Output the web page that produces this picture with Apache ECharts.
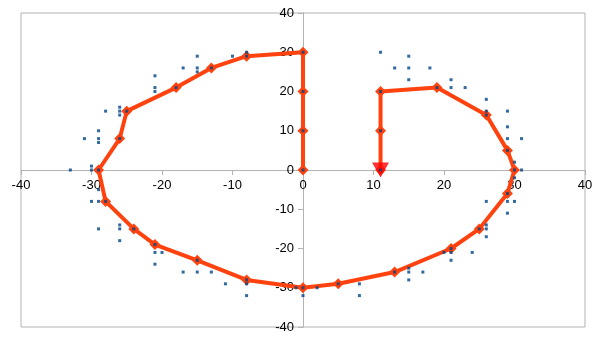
<!DOCTYPE html>
<html>
<head>
<meta charset="utf-8">
<script src="https://cdn.jsdelivr.net/npm/echarts@6/dist/echarts.min.js"></script>
<style>html,body{margin:0;padding:0;background:#fff}#c{width:605px;height:340px}</style>
</head>
<body>
<div id="c"></div>
<script>
// Path (orange line) points, in drawing order
const pathX = [0, 0, 0, 0, -8, -13, -18, -25, -26, -29, -28, -24, -21, -15, -8, 0, 5, 13, 21, 25, 29, 30, 29, 26, 19, 11, 11, 11];
const pathY = [0, 10, 20, 30, 29, 26, 21, 15, 8, 0, -8, -15, -19, -23, -28, -30, -29, -26, -20, -15, -6, 0, 5, 14, 21, 20, 10, 0];
// Scatter (blue squares)
const dotsX = [0, 0, 0, 0, -8, -8, -10, -13, -15, -15, -15, -17, -18, -21, -21, -21, -25, -26, -26, -26, -28, -26, -29, -29, -29, -31, -30, -30, -33, -29,
  -29, -30, -29, -28, -29, -26, -26, -26, -24, -21, -21, -20, -21, -17, -15, -13, -15, -11, -8, -8, -8, -1, 0, 0, 2,
  5, 8, 8, 13, 15, 15, 15, 17, 20, 21, 21, 21, 24, 25, 26, 26, 26, 26, 29, 29, 30, 29, 30, 31,
  11, 15, 13, 15, 18, 15, 21, 21, 23, 19, 26, 26, 26, 29, 29, 29, 31, 29, 30, 30, 11, 11, 11];
const dotsY = [0, 10, 20, 30, 30, 29, 29, 26, 29, 26, 25, 26, 21, 24, 21, 20, 15, 16, 15, 14, 15, 8, 10, 8, 7, 8, 1, 0, 0, 0,
  -5, -8, -8, -8, -15, -14, -15, -18, -15, -19, -21, -21, -24, -26, -26, -26, -23, -29, -28, -29, -32, -30, -30, -32, -30,
  -29, -29, -32, -26, -25, -26, -28, -26, -21, -20, -21, -23, -21, -15, -14, -15, -17, -8, -6, -8, -8, -11, -2, 0,
  30, 29, 26, 26, 26, 23, 23, 21, 21, 21, 18, 15, 14, 15, 11, 8, 8, 5, 2, 0, 20, 10, 0];
// Axis ticks
const axisMin = -40, axisMax = 40, axisStep = 10;

const pathData = pathX.map((x, i) => [x, pathY[i]]);
const dotsData = dotsX.map((x, i) => [x, dotsY[i]]);
const endPoint = [[pathX[pathX.length - 1], pathY[pathY.length - 1]]];

const W = 605, H = 340;
const G = {left: 21, right: 20, top: 13, bottom: 13};
const plotW = W - G.left - G.right, plotH = H - G.top - G.bottom;

const chart = echarts.init(document.getElementById('c'), null, {renderer: 'canvas'});
const labelStyle = {color: '#000', fontSize: 13, fontFamily: 'Liberation Sans, Arial, sans-serif'};
chart.setOption({
  animation: false,
  backgroundColor: '#fff',
  grid: Object.assign({show: true, borderColor: '#b3b3b3', borderWidth: 1,
         containLabel: false, outerBoundsMode: 'none'}, G),
  xAxis: {
    type: 'value', min: axisMin, max: axisMax, interval: axisStep,
    position: 'bottom', offset: -plotH / 2,
    axisLine: {onZero: false, lineStyle: {color: '#b3b3b3', width: 1}},
    axisTick: {show: true, inside: false, length: 5, lineStyle: {color: '#b3b3b3'}},
    axisLabel: Object.assign({margin: 9, showMinLabel: true, showMaxLabel: true}, labelStyle),
    splitLine: {show: false}
  },
  yAxis: {
    type: 'value', min: axisMin, max: axisMax, interval: axisStep,
    position: 'left', offset: -plotW / 2,
    axisLine: {onZero: false, lineStyle: {color: '#b3b3b3', width: 1}},
    axisTick: {show: true, inside: false, length: 5, lineStyle: {color: '#b3b3b3'}},
    axisLabel: Object.assign({margin: 9, showMinLabel: true, showMaxLabel: true}, labelStyle),
    splitLine: {show: false}
  },
  series: [
    {
      type: 'line', data: pathData, z: 2,
      lineStyle: {color: '#ff420e', width: 4},
      itemStyle: {color: '#ff420e'},
      symbol: 'diamond', symbolSize: 11, showSymbol: true
    },
    {
      type: 'scatter', data: endPoint, z: 3,
      symbol: 'triangle', symbolRotate: 180, symbolSize: [17, 15],
      itemStyle: {color: '#ff0000'}
    },
    {
      type: 'scatter', data: dotsData, z: 4,
      symbol: 'rect', symbolSize: 3,
      itemStyle: {color: '#004586'}
    }
  ]
});
</script>
</body>
</html>
